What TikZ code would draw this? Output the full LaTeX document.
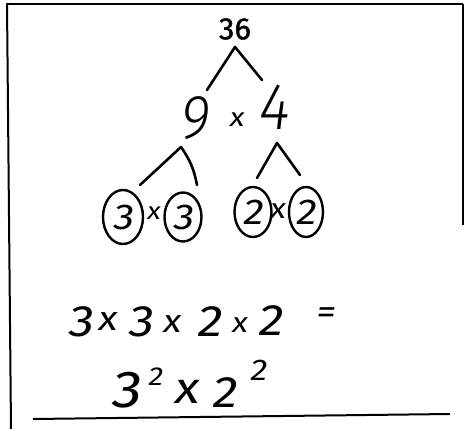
\documentclass[tikz,border=0pt]{standalone}
\usepackage{fontspec}
\usetikzlibrary{shapes.geometric}
\newfontfamily\hand[FakeSlant=0.15,FakeStretch=1.15]{Fira Sans}
\newfontfamily\handlight[FakeSlant=0.12,FakeStretch=0.9]{Fira Sans Light}
\newfontfamily\typed[FakeBold=1.2]{Fira Sans}
\begin{document}
\begin{tikzpicture}[x=1pt,y=-1pt,
  frame/.style={line width=2pt},
  pen/.style={line width=2.6pt, line cap=round, line join=round},
  hw/.style={inner sep=0pt, outer sep=0pt, font=\hand\fontsize{#1}{#1}\selectfont},
  hwl/.style={inner sep=0pt, outer sep=0pt, font=\handlight\fontsize{#1}{#1}\selectfont},
  tp/.style={inner sep=0pt, outer sep=0pt, font=\typed\fontsize{#1}{#1}\selectfont},
  ring/.style={ellipse, draw, line width=2.4pt, inner sep=0pt, font=\hand\fontsize{36}{36}\selectfont}]
\useasboundingbox (0,0) rectangle (467,429);
% frame
\coordinate (tl) at (6,4);
\coordinate (tr) at (463,4);
\coordinate (bl) at (11,429);
\coordinate (rb) at (463,225);
\coordinate (ul) at (33,419);
\coordinate (ur) at (450,414);
\draw[frame] (tl) -- (tr);
\draw[frame] (7,4) -- (bl);
\draw[frame] (tr) -- (rb);
\draw[frame] (ul) -- (ur);
% tree
\node[tp=31] (n36) at (235,29) {36};
\node[hwl=62] (n9) at (194,118) {9};
\node[hw=26] (t1) at (236,120) {x};
\node[hwl=66] (n4) at (273,107) {4};
\coordinate (a1) at (207,90);
\coordinate (a0) at (235,47);
\coordinate (a2) at (262,80);
\draw[pen] (a1) -- (a0) -- (a2);
\coordinate (b1) at (140,185);
\coordinate (b0) at (181,147);
\coordinate (b2) at (197,185);
\draw[pen] (b1) -- (b0) to[bend left=12] (b2);
\coordinate (d1) at (257,178);
\coordinate (d0) at (277,143);
\coordinate (d2) at (300,175);
\draw[pen] (d1) -- (d0) -- (d2);
% circled factors
\node[ring, minimum width=40pt, minimum height=54pt] (c1) at (123,217) {3};
\node[hw=24] (t2) at (153,213) {x};
\node[ring, minimum width=37pt, minimum height=49pt] (c2) at (183,217) {3};
\node[ring, minimum width=37pt, minimum height=50pt] (c3) at (253,212) {2};
\node[hw=28] (t3) at (277,211) {x};
\node[ring, minimum width=34pt, minimum height=50pt] (c4) at (306,212) {2};
% first equation row
\node[hw=44] (r1) at (80,322) {3};
\node[hw=34] (r2) at (107,322) {x};
\node[hw=44] (r3) at (140,322) {3};
\node[hw=32] (r4) at (171,324) {x};
\node[hw=44] (r5) at (209,322) {2};
\node[hw=28] (r6) at (239,325) {x};
\node[hw=44] (r7) at (270,321) {2};
\node[hw=34] (r8) at (325,316) {=};
% second equation row
\node[hw=52] (s1) at (125,390) {3};
\node[hw=26] (s2) at (155,377) {2};
\node[hw=44] (s3) at (186,392) {x};
\node[hw=44] (s4) at (224,393) {2};
\node[hw=30] (s5) at (258,370) {2};
\end{tikzpicture}
\end{document}
